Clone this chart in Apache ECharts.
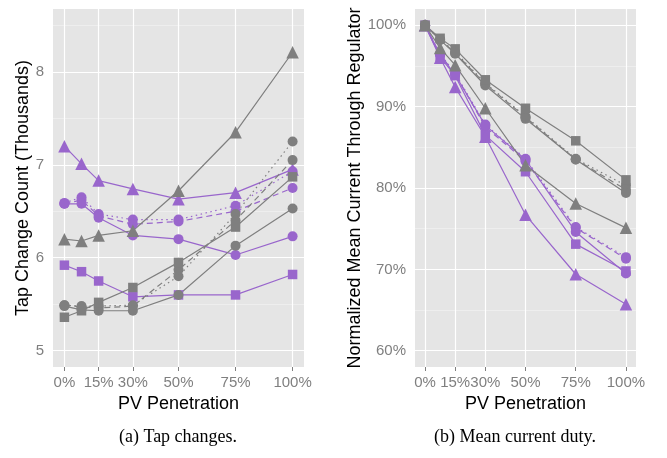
<!DOCTYPE html>
<html>
<head>
<meta charset="utf-8">
<script src="https://cdn.jsdelivr.net/npm/echarts@6/dist/echarts.min.js"></script>
<style>
    html, body { margin: 0; padding: 0; background: #fff; }
    #chart { width: 667px; height: 458px; }
</style>
</head>
<body>
<div id="chart"></div>
<script>
    // x positions (PV penetration, %)
    const penetration = [0, 7.5, 15, 30, 50, 75, 100];
    const penetrationTicks = [0, 15, 30, 50, 75, 100];
    const tapTicks = [5, 6, 7, 8];
    const tapMinorTicks = [5.5, 6.5, 7.5, 8.5];
    const dutyTicks = [60, 70, 80, 90, 100];
    const dutyMinorTicks = [65, 75, 85, 95];

    // (a) tap change count, thousands
    const tapPurpleTriangle   = [7.20, 7.01, 6.83, 6.74, 6.63, 6.70, 6.95];
    const tapPurpleCircle     = [6.58, 6.58, 6.43, 6.24, 6.20, 6.03, 6.23];
    const tapPurpleCircleDash = [6.58, 6.62, 6.45, 6.36, 6.39, 6.50, 6.75];
    const tapPurpleCircleDot  = [6.59, 6.65, 6.47, 6.41, 6.41, 6.56, 6.93];
    const tapPurpleSquare     = [5.92, 5.85, 5.75, 5.58, 5.60, 5.60, 5.82];
    const tapGreyTriangle     = [6.20, 6.18, 6.24, 6.29, 6.72, 7.35, 8.21];
    const tapGreyCircle       = [5.48, 5.44, 5.43, 5.43, 5.60, 6.13, 6.53];
    const tapGreyCircleDash   = [5.49, 5.47, 5.46, 5.48, 5.87, 6.40, 7.05];
    const tapGreyCircleDot    = [5.49, 5.48, 5.48, 5.49, 5.80, 6.47, 7.25];
    const tapGreySquare       = [5.36, 5.43, 5.52, 5.68, 5.95, 6.33, 6.87];

    // (b) normalized mean current through regulator, %
    const dutyPurpleTriangle   = [100, 96.0, 92.4, 86.3, 76.7, 69.4, 65.7];
    const dutyPurpleCircle     = [100, 96.4, 93.9, 87.7, 83.5, 74.6, 69.5];
    const dutyPurpleCircleDash = [100, 96.4, 94.0, 87.5, 83.3, 75.1, 71.3];
    const dutyPurpleCircleDot  = [100, 96.5, 94.1, 87.8, 83.6, 75.2, 71.5];
    const dutyPurpleSquare     = [100, 96.1, 93.8, 86.5, 82.0, 73.1, 69.8];
    const dutyGreyTriangle     = [100, 97.2, 95.1, 89.8, 82.8, 78.1, 75.1];
    const dutyGreyCircle       = [100, 98.2, 96.5, 92.6, 88.5, 83.5, 79.4];
    const dutyGreyCircleDash   = [100, 98.2, 96.6, 92.8, 88.7, 83.5, 79.8];
    const dutyGreyCircleDot    = [100, 98.3, 96.7, 92.9, 88.8, 83.6, 80.3];
    const dutyGreySquare       = [100, 98.4, 97.1, 93.3, 89.8, 85.8, 81.0];

    const PURPLE = '#9966cc';
    const GREY = '#7f7f7f';
    const FONT = '"Liberation Sans", Arial, sans-serif';

    const symbolSizes = { triangle: 12.5, circle: 10, rect: 9.5 };
    const dashes = { solid: 'solid', dash: [6, 4], dot: [1.5, 3.5] };

    function line(values, color, symbol, dash, idx){
        return {
            type: 'line',
            xAxisIndex: idx,
            yAxisIndex: idx,
            data: penetration.map((x, i) => [x, values[i]]),
            symbol: symbol,
            symbolSize: symbolSizes[symbol],
            showSymbol: true,
            z: 3,
            lineStyle: { color: color, width: 1.2, type: dashes[dash] },
            itemStyle: { color: color, borderWidth: 0 },
            silent: true
        };
    }

    // panel grid lines, kept under the data
    function gridLines(idx, xMajor, yMajor, yMinor){
        let data = [];
        yMinor.forEach(v => data.push({ yAxis: v, lineStyle: { color: '#f2f2f2', width: 0.7 } }));
        yMajor.forEach(v => data.push({ yAxis: v, lineStyle: { color: '#ffffff', width: 1.2 } }));
        xMajor.forEach(v => data.push({ xAxis: v, lineStyle: { color: '#ffffff', width: 1.2 } }));
        return {
            type: 'line',
            xAxisIndex: idx,
            yAxisIndex: idx,
            data: [],
            z: 1,
            silent: true,
            markLine: {
                z: 1,
                silent: true,
                symbol: ['none', 'none'],
                label: { show: false },
                animation: false,
                lineStyle: { type: 'solid' },
                data: data
            }
        };
    }

    function xAxis(idx){
        return {
            type: 'value',
            gridIndex: idx,
            min: -5,
            max: 105,
            axisLine: { show: false },
            splitLine: { show: false },
            axisTick: { customValues: penetrationTicks, length: 4, lineStyle: { color: GREY } },
            axisLabel: {
                customValues: penetrationTicks,
                formatter: v => v + '%',
                color: GREY,
                fontSize: 15,
                fontFamily: FONT,
                margin: 8
            },
            name: 'PV Penetration',
            nameLocation: 'middle',
            nameGap: 25,
            nameTextStyle: { color: '#000', fontSize: 18, fontFamily: FONT }
        };
    }

    let myChart = echarts.init(document.getElementById('chart'), null, { renderer: 'canvas' });
    let option = {
        animation: false,
        backgroundColor: '#ffffff',
        grid: [
            { left: 53, top: 9, width: 251, height: 358, show: true, backgroundColor: '#e5e5e5', borderWidth: 0, z: 0 },
            { left: 415, top: 9, width: 221, height: 358, show: true, backgroundColor: '#e5e5e5', borderWidth: 0, z: 0 }
        ],
        xAxis: [xAxis(0), xAxis(1)],
        yAxis: [
            {
                type: 'value',
                gridIndex: 0,
                min: 4.825,
                max: 8.675,
                axisLine: { show: false },
                splitLine: { show: false },
                axisTick: { customValues: tapTicks, length: 4, lineStyle: { color: GREY } },
                axisLabel: { customValues: tapTicks, color: GREY, fontSize: 15, fontFamily: FONT, margin: 9 },
                name: 'Tap Change Count (Thousands)',
                nameLocation: 'middle',
                nameGap: 20,
                nameTextStyle: { color: '#000', fontSize: 18, fontFamily: FONT }
            },
            {
                type: 'value',
                gridIndex: 1,
                min: 58,
                max: 102,
                axisLine: { show: false },
                splitLine: { show: false },
                axisTick: { customValues: dutyTicks, length: 4, lineStyle: { color: GREY } },
                axisLabel: { customValues: dutyTicks, formatter: v => v + '%', color: GREY, fontSize: 15, fontFamily: FONT, margin: 9 },
                name: 'Normalized Mean Current Through Regulator',
                nameLocation: 'middle',
                nameGap: 50,
                nameTextStyle: { color: '#000', fontSize: 18, fontFamily: FONT }
            }
        ],
        graphic: [
            { type: 'text', style: { text: '(a) Tap changes.', x: 178, y: 437, textAlign: 'center', textVerticalAlign: 'middle', fill: '#000', font: '18px "Liberation Serif", "Times New Roman", serif' } },
            { type: 'text', style: { text: '(b) Mean current duty.', x: 515, y: 437, textAlign: 'center', textVerticalAlign: 'middle', fill: '#000', font: '18px "Liberation Serif", "Times New Roman", serif' } }
        ],
        series: [
            gridLines(0, penetrationTicks, tapTicks, tapMinorTicks),
            gridLines(1, penetrationTicks, dutyTicks, dutyMinorTicks),
            line(tapPurpleCircleDot, PURPLE, 'circle', 'dot', 0),
            line(tapPurpleCircleDash, PURPLE, 'circle', 'dash', 0),
            line(tapPurpleCircle, PURPLE, 'circle', 'solid', 0),
            line(tapPurpleSquare, PURPLE, 'rect', 'solid', 0),
            line(tapPurpleTriangle, PURPLE, 'triangle', 'solid', 0),
            line(tapGreyCircleDot, GREY, 'circle', 'dot', 0),
            line(tapGreyCircleDash, GREY, 'circle', 'dash', 0),
            line(tapGreyCircle, GREY, 'circle', 'solid', 0),
            line(tapGreySquare, GREY, 'rect', 'solid', 0),
            line(tapGreyTriangle, GREY, 'triangle', 'solid', 0),
            line(dutyPurpleCircleDot, PURPLE, 'circle', 'dot', 1),
            line(dutyPurpleCircleDash, PURPLE, 'circle', 'dash', 1),
            line(dutyPurpleCircle, PURPLE, 'circle', 'solid', 1),
            line(dutyPurpleSquare, PURPLE, 'rect', 'solid', 1),
            line(dutyPurpleTriangle, PURPLE, 'triangle', 'solid', 1),
            line(dutyGreyCircleDot, GREY, 'circle', 'dot', 1),
            line(dutyGreyCircleDash, GREY, 'circle', 'dash', 1),
            line(dutyGreyCircle, GREY, 'circle', 'solid', 1),
            line(dutyGreySquare, GREY, 'rect', 'solid', 1),
            line(dutyGreyTriangle, GREY, 'triangle', 'solid', 1)
        ]
    };
    myChart.setOption(option, true);
</script>
</body>
</html>
